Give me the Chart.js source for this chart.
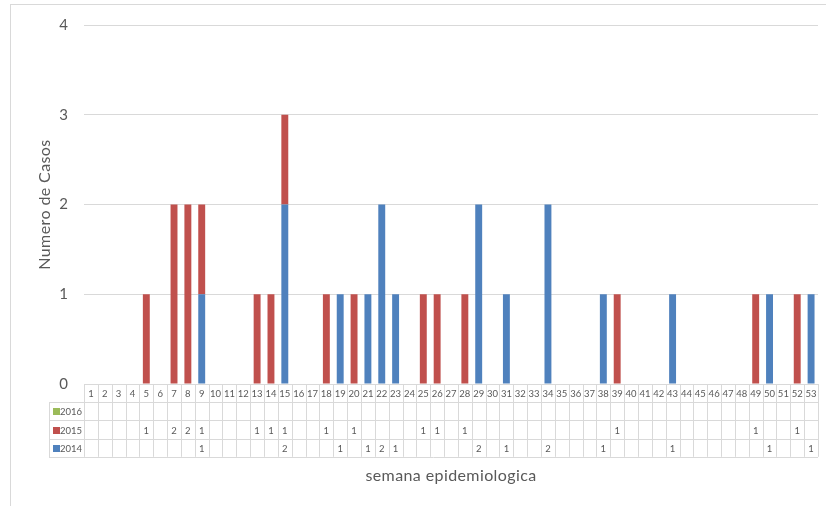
<!DOCTYPE html>
<html>
<head>
<meta charset="utf-8">
<script src="https://cdn.jsdelivr.net/npm/chart.js@4.4.1/dist/chart.umd.min.js"></script>
<style>
  html, body { margin: 0; padding: 0; background: #ffffff; }
  #wrap { width: 826px; height: 506px; }
</style>
</head>
<body>
<div id="wrap"><canvas id="c" width="826" height="506"></canvas></div>
<script>
// Semanas epidemiológicas (categorías del eje x / columnas de la tabla)
const weeks = ['1','2','3','4','5','6','7','8','9','10','11','12','13','14','15','16','17','18',
  '19','20','21','22','23','24','25','26','27','28','29','30','31','32','33','34','35','36',
  '37','38','39','40','41','42','43','44','45','46','47','48','49','50','51','52','53'];

// Casos por semana y año (null = sin casos)
const cases2014 = [null,null,null,null,null,null,null,null,1,null,null,null,null,null,2,null,null,null,
  1,null,1,2,1,null,null,null,null,null,2,null,1,null,null,2,null,null,
  null,1,null,null,null,null,1,null,null,null,null,null,null,1,null,null,1];
const cases2015 = [null,null,null,null,1,null,2,2,1,null,null,null,1,1,1,null,null,1,
  null,1,null,null,null,null,1,1,null,1,null,null,null,null,null,null,null,null,
  null,null,1,null,null,null,null,null,null,null,null,null,1,null,null,1,null];
const cases2016 = weeks.map(() => null);

const yTicks = [0, 1, 2, 3, 4];

const seriesNames = ['2016', '2015', '2014'];
const colors = { '2014': '#4f81bd', '2015': '#c0504d', '2016': '#9bbb59' };
const seriesData = { '2014': cases2014, '2015': cases2015, '2016': cases2016 };

const FONT = 'Lato, "Open Sans", "Liberation Sans", sans-serif';
const TEXT = '#595959';
const LINE = '#d9d9d9';

// Marco exterior del gráfico
const framePlugin = {
  id: 'frame',
  beforeDraw(chart) {
    const ctx = chart.ctx;
    ctx.save();
    ctx.strokeStyle = LINE;
    ctx.lineWidth = 1;
    ctx.strokeRect(10.5, 4.5, 900, 600);
    ctx.restore();
  }
};

// Tabla de datos bajo el área de trazado, con la leyenda en la primera columna,
// y títulos de los ejes
const dataTablePlugin = {
  id: 'dataTable',
  afterDraw(chart) {
    const ctx = chart.ctx;
    const x = chart.scales.x;
    const area = chart.chartArea;
    const rowH = 18.2;
    const top = area.bottom;
    const legendLeft = 49;
    const n = weeks.length;
    const colW = (area.right - area.left) / n;
    const tableBottom = top + rowH * 4;

    ctx.save();
    ctx.strokeStyle = LINE;
    ctx.lineWidth = 1;
    ctx.beginPath();
    // líneas horizontales
    ctx.moveTo(area.left, Math.round(top) + 0.5);
    ctx.lineTo(area.right, Math.round(top) + 0.5);
    for (let r = 1; r <= 4; r++) {
      const y = Math.round(top + rowH * r) + 0.5;
      ctx.moveTo(legendLeft, y);
      ctx.lineTo(area.right, y);
    }
    // líneas verticales
    for (let i = 0; i <= n; i++) {
      const xp = Math.round(area.left + colW * i) + 0.5;
      ctx.moveTo(xp, top);
      ctx.lineTo(xp, tableBottom);
    }
    const lx = legendLeft + 0.5;
    ctx.moveTo(lx, Math.round(top + rowH) + 0.5);
    ctx.lineTo(lx, Math.round(tableBottom) + 0.5);
    ctx.stroke();

    ctx.fillStyle = TEXT;
    ctx.font = '9.5px ' + FONT;
    ctx.textAlign = 'center';
    ctx.textBaseline = 'middle';
    weeks.forEach((w, i) => {
      ctx.fillText(w, x.getPixelForValue(i), top + rowH / 2 + 1);
    });

    seriesNames.forEach((name, r) => {
      const yc = top + rowH * (r + 1) + rowH / 2 + 1;
      ctx.fillStyle = colors[name];
      ctx.fillRect(53, Math.round(yc - 4), 7, 7);
      ctx.fillStyle = TEXT;
      ctx.textAlign = 'left';
      ctx.fillText(name, 60, yc);
      ctx.textAlign = 'center';
      seriesData[name].forEach((v, i) => {
        if (v !== null) ctx.fillText(String(v), x.getPixelForValue(i), yc);
      });
    });

    // títulos de los ejes
    ctx.font = '16px ' + FONT;
    ctx.letterSpacing = '0.4px';
    ctx.fillText('semana epidemiologica', (area.left + area.right) / 2, 476);
    ctx.translate(45, (area.top + area.bottom) / 2);
    ctx.rotate(-Math.PI / 2);
    ctx.fillText('Numero de Casos', 0, 0);
    ctx.restore();
  }
};

new Chart(document.getElementById('c'), {
  type: 'bar',
  data: {
    labels: weeks,
    datasets: [
      { label: '2014', data: cases2014, backgroundColor: colors['2014'] },
      { label: '2015', data: cases2015, backgroundColor: colors['2015'] },
      { label: '2016', data: cases2016, backgroundColor: colors['2016'] }
    ]
  },
  options: {
    responsive: false,
    animation: false,
    devicePixelRatio: 1,
    layout: { padding: { top: 25, right: 8, bottom: 122, left: 10 } },
    datasets: { bar: { categoryPercentage: 1.0, barPercentage: 0.5 } },
    plugins: {
      legend: { display: false },
      tooltip: { enabled: false }
    },
    scales: {
      x: {
        stacked: true,
        display: false
      },
      y: {
        stacked: true,
        min: 0,
        max: 4,
        afterBuildTicks(scale) { scale.ticks = yTicks.map(v => ({ value: v })); },
        afterFit(scale) { scale.width = 74; },
        border: { display: false },
        grid: { color: LINE, lineWidth: 1, drawTicks: false },
        ticks: { padding: 16, color: TEXT, font: { family: FONT, size: 15 } }
      }
    }
  },
  plugins: [framePlugin, dataTablePlugin]
});
</script>
</body>
</html>
